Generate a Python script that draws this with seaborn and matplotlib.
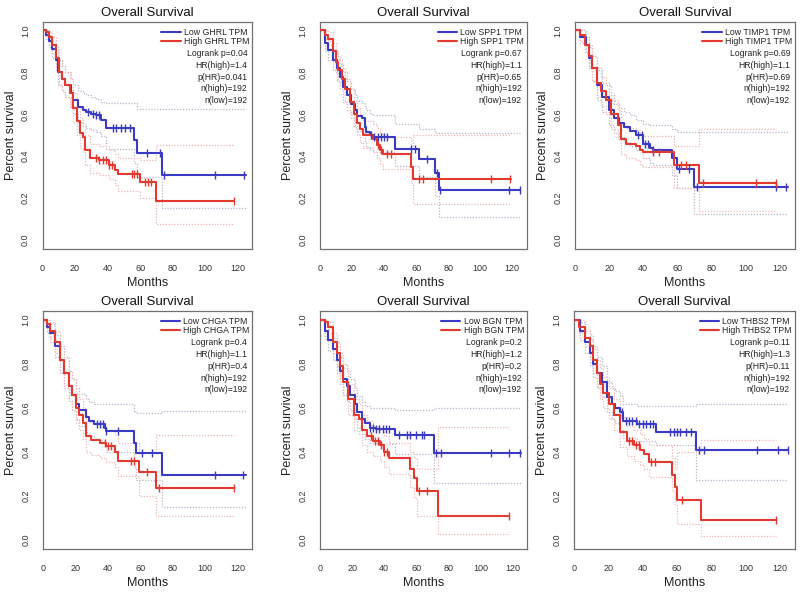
# -*- coding: utf-8 -*-
import numpy as np
import seaborn as sns
import matplotlib
matplotlib.use("Agg")
import matplotlib.pyplot as plt

##########              Dados                ##########
genes = ["GHRL", "SPP1", "TIMP1", "CHGA", "BGN", "THBS2"]
logrank_p = ["0.04", "0.67", "0.69", "0.4", "0.2", "0.11"]
hr_high = ["1.4", "1.1", "1.1", "1.1", "1.2", "1.3"]
p_hr = ["0.041", "0.65", "0.69", "0.4", "0.2", "0.11"]
n_high = [192, 192, 192, 192, 192, 192]
n_low = [192, 192, 192, 192, 192, 192]

# GHRL
ghrl_low_t = [0, 2, 4, 6, 8, 9.8, 12, 14, 17.3, 19, 22, 25, 27, 30, 33, 36, 39, 56.3, 57.8, 73.5, 125]
ghrl_low_s = [1.0, 0.98, 0.95, 0.91, 0.86, 0.80, 0.77, 0.74, 0.70, 0.67, 0.635, 0.62, 0.61, 0.60, 0.595, 0.575, 0.535, 0.475, 0.415, 0.31, 0.31]
ghrl_low_up = [1.0, 1.0, 0.98, 0.95, 0.91, 0.86, 0.83, 0.80, 0.77, 0.74, 0.71, 0.70, 0.69, 0.68, 0.675, 0.66, 0.655, 0.655, 0.625, 0.625, 0.625]
ghrl_low_lo = [1.0, 0.96, 0.92, 0.87, 0.81, 0.74, 0.71, 0.68, 0.63, 0.60, 0.565, 0.545, 0.535, 0.525, 0.515, 0.495, 0.435, 0.37, 0.30, 0.155, 0.155]
ghrl_low_c = [28, 31, 33, 35, 43.5, 45.5, 48, 51, 53.5, 64, 72.5, 74.7, 106, 124]
ghrl_high_t = [0, 2, 4, 6, 8, 10, 12, 14, 17, 19, 21, 23, 25, 26, 29, 35, 41, 44.5, 46.5, 60.2, 70, 118]
ghrl_high_s = [1.0, 0.99, 0.97, 0.93, 0.87, 0.80, 0.77, 0.74, 0.70, 0.63, 0.57, 0.51, 0.49, 0.43, 0.39, 0.38, 0.36, 0.335, 0.315, 0.275, 0.185, 0.185]
ghrl_high_up = [1.0, 1.0, 0.99, 0.97, 0.92, 0.86, 0.83, 0.80, 0.77, 0.70, 0.64, 0.58, 0.56, 0.50, 0.46, 0.45, 0.43, 0.41, 0.39, 0.38, 0.455, 0.455]
ghrl_high_lo = [1.0, 0.97, 0.94, 0.89, 0.82, 0.74, 0.71, 0.68, 0.63, 0.56, 0.50, 0.44, 0.42, 0.36, 0.32, 0.31, 0.29, 0.265, 0.235, 0.20, 0.075, 0.075]
ghrl_high_c = [33, 35, 37, 39, 41, 43, 55, 56.5, 58, 63, 65, 67, 117.5]

# SPP1
spp1_low_t = [0, 3, 5, 8.3, 10.4, 12.5, 14.6, 17, 19.4, 22, 23.3, 26, 28, 29, 31, 33, 46.5, 62, 72, 74, 125]
spp1_low_s = [1.0, 0.94, 0.907, 0.86, 0.82, 0.78, 0.73, 0.69, 0.65, 0.62, 0.59, 0.58, 0.54, 0.515, 0.50, 0.49, 0.435, 0.385, 0.32, 0.24, 0.24]
spp1_low_up = [1.0, 0.98, 0.95, 0.91, 0.88, 0.84, 0.80, 0.76, 0.72, 0.69, 0.665, 0.655, 0.64, 0.62, 0.60, 0.595, 0.555, 0.53, 0.51, 0.51, 0.51]
spp1_low_lo = [1.0, 0.90, 0.86, 0.81, 0.76, 0.72, 0.66, 0.62, 0.58, 0.55, 0.52, 0.51, 0.47, 0.445, 0.43, 0.42, 0.355, 0.30, 0.21, 0.11, 0.11]
spp1_low_c = [32, 34, 36, 38, 40, 42, 57, 59, 66.7, 73, 75, 117.7, 124.6]
spp1_high_t = [0, 3, 5, 8.3, 10, 11.5, 13.5, 15.6, 18.7, 21, 23, 25, 27, 33, 35.4, 37.5, 39.6, 56.7, 58.3, 119]
spp1_high_s = [1.0, 0.98, 0.96, 0.90, 0.85, 0.81, 0.77, 0.72, 0.66, 0.60, 0.56, 0.53, 0.50, 0.48, 0.455, 0.43, 0.41, 0.35, 0.29, 0.29]
spp1_high_up = [1.0, 1.0, 0.99, 0.94, 0.90, 0.86, 0.82, 0.77, 0.72, 0.67, 0.63, 0.60, 0.57, 0.555, 0.535, 0.51, 0.49, 0.44, 0.50, 0.50]
spp1_high_lo = [1.0, 0.96, 0.93, 0.85, 0.80, 0.76, 0.71, 0.66, 0.60, 0.54, 0.50, 0.47, 0.44, 0.42, 0.39, 0.365, 0.34, 0.27, 0.17, 0.17]
spp1_high_c = [36, 38, 42, 44, 62, 64, 106.7, 118.3]

# TIMP1
timp1_low_t = [0, 3, 6.3, 8, 10, 13, 16, 20, 23, 26, 29, 32, 36, 40, 44, 45.5, 57, 60, 70, 125]
timp1_low_s = [1.0, 0.97, 0.93, 0.87, 0.82, 0.74, 0.68, 0.62, 0.58, 0.56, 0.54, 0.52, 0.50, 0.46, 0.44, 0.43, 0.39, 0.34, 0.255, 0.255]
timp1_low_up = [1.0, 1.0, 0.97, 0.92, 0.88, 0.81, 0.75, 0.69, 0.65, 0.63, 0.61, 0.595, 0.575, 0.555, 0.55, 0.55, 0.53, 0.515, 0.515, 0.515]
timp1_low_lo = [1.0, 0.94, 0.89, 0.82, 0.76, 0.67, 0.61, 0.55, 0.51, 0.49, 0.47, 0.45, 0.43, 0.39, 0.37, 0.36, 0.31, 0.25, 0.125, 0.125]
timp1_low_c = [37, 39, 41, 43, 46, 61, 67, 71.5, 118, 124]
timp1_high_t = [0, 3, 6, 8, 10, 13, 15, 18, 21, 25.5, 27, 30, 36, 38, 40, 58, 73, 118]
timp1_high_s = [1.0, 0.98, 0.93, 0.88, 0.82, 0.75, 0.71, 0.67, 0.60, 0.55, 0.48, 0.46, 0.45, 0.43, 0.42, 0.36, 0.27, 0.27]
timp1_high_up = [1.0, 1.0, 0.97, 0.93, 0.88, 0.82, 0.78, 0.74, 0.67, 0.62, 0.555, 0.535, 0.525, 0.505, 0.495, 0.45, 0.53, 0.53]
timp1_high_lo = [1.0, 0.95, 0.89, 0.83, 0.76, 0.68, 0.64, 0.60, 0.53, 0.48, 0.41, 0.39, 0.38, 0.36, 0.35, 0.25, 0.14, 0.14]
timp1_high_c = [46, 49, 62, 65, 75, 106, 117.6]

# CHGA
chga_low_t = [0, 2, 4, 7, 10, 13, 16, 18, 20, 22, 26.5, 28.5, 31.6, 37.8, 39, 56, 57.5, 73, 125]
chga_low_s = [1.0, 0.97, 0.94, 0.88, 0.82, 0.76, 0.70, 0.66, 0.62, 0.59, 0.56, 0.54, 0.525, 0.51, 0.495, 0.44, 0.395, 0.295, 0.295]
chga_low_up = [1.0, 1.0, 0.98, 0.93, 0.88, 0.83, 0.77, 0.73, 0.69, 0.665, 0.64, 0.625, 0.62, 0.62, 0.62, 0.58, 0.575, 0.585, 0.585]
chga_low_lo = [1.0, 0.94, 0.90, 0.83, 0.76, 0.69, 0.63, 0.59, 0.55, 0.52, 0.49, 0.47, 0.455, 0.44, 0.40, 0.33, 0.27, 0.15, 0.15]
chga_low_c = [33, 35, 37, 39, 46, 61, 67, 106, 123.5]
chga_high_t = [0, 2, 4, 7, 10, 13, 16, 18, 20, 22, 24.5, 26.5, 29.6, 34.7, 39, 44, 46, 59, 69.4, 118]
chga_high_s = [1.0, 0.98, 0.95, 0.90, 0.82, 0.76, 0.70, 0.66, 0.60, 0.57, 0.53, 0.47, 0.455, 0.44, 0.425, 0.40, 0.36, 0.31, 0.235, 0.235]
chga_high_up = [1.0, 1.0, 0.99, 0.95, 0.88, 0.83, 0.77, 0.73, 0.67, 0.64, 0.60, 0.54, 0.53, 0.515, 0.50, 0.475, 0.44, 0.40, 0.475, 0.475]
chga_high_lo = [1.0, 0.96, 0.92, 0.85, 0.76, 0.69, 0.63, 0.59, 0.53, 0.50, 0.46, 0.40, 0.385, 0.37, 0.355, 0.33, 0.29, 0.20, 0.11, 0.11]
chga_high_c = [38, 40, 42, 54, 56, 64, 71.4, 117.7]

# BGN
bgn_low_t = [0, 3, 5, 8, 10.4, 12.5, 14.6, 16.7, 18.7, 22, 23.3, 26, 28, 31, 35, 47, 71, 125]
bgn_low_s = [1.0, 0.95, 0.91, 0.87, 0.82, 0.77, 0.73, 0.70, 0.66, 0.62, 0.58, 0.55, 0.53, 0.51, 0.505, 0.475, 0.395, 0.395]
bgn_low_up = [1.0, 0.99, 0.96, 0.92, 0.88, 0.83, 0.80, 0.77, 0.73, 0.69, 0.655, 0.625, 0.61, 0.60, 0.60, 0.59, 0.60, 0.60]
bgn_low_lo = [1.0, 0.91, 0.86, 0.82, 0.76, 0.71, 0.66, 0.63, 0.59, 0.55, 0.51, 0.48, 0.46, 0.44, 0.435, 0.39, 0.26, 0.26]
bgn_low_c = [31, 33, 35, 37, 39, 41, 43, 49, 54, 56, 60, 63.5, 65, 72, 75.4, 106.7, 118, 124.6]
bgn_high_t = [0, 3, 5, 8, 10.4, 12.5, 14.6, 17.7, 21, 24, 26, 29, 33, 37.5, 39.6, 43, 56, 58.3, 60.4, 73.5, 118]
bgn_high_s = [1.0, 0.99, 0.97, 0.90, 0.85, 0.79, 0.72, 0.64, 0.57, 0.55, 0.50, 0.47, 0.45, 0.43, 0.40, 0.37, 0.32, 0.28, 0.22, 0.11, 0.11]
bgn_high_up = [1.0, 1.0, 0.99, 0.94, 0.90, 0.85, 0.78, 0.71, 0.64, 0.62, 0.57, 0.54, 0.52, 0.50, 0.47, 0.44, 0.40, 0.37, 0.32, 0.515, 0.515]
bgn_high_lo = [1.0, 0.97, 0.94, 0.85, 0.79, 0.73, 0.66, 0.57, 0.50, 0.48, 0.43, 0.40, 0.38, 0.36, 0.33, 0.30, 0.24, 0.19, 0.11, 0.025, 0.025]
bgn_high_c = [32, 34, 36, 38, 40, 42, 61.5, 66.7, 117.7]

# THBS2
thbs2_low_t = [0, 3.3, 6.3, 9.2, 11, 13, 16, 19, 22, 24, 27, 28.4, 36.7, 47.5, 71, 125]
thbs2_low_s = [1.0, 0.95, 0.90, 0.85, 0.80, 0.76, 0.72, 0.65, 0.62, 0.60, 0.58, 0.54, 0.525, 0.49, 0.41, 0.41]
thbs2_low_up = [1.0, 0.99, 0.95, 0.91, 0.87, 0.83, 0.79, 0.72, 0.69, 0.675, 0.655, 0.62, 0.61, 0.61, 0.62, 0.62]
thbs2_low_lo = [1.0, 0.91, 0.85, 0.79, 0.74, 0.69, 0.65, 0.58, 0.55, 0.53, 0.50, 0.465, 0.45, 0.43, 0.27, 0.27]
thbs2_low_c = [28, 30, 32, 34, 36, 38, 40, 42, 44, 46, 56, 58, 60, 62, 65, 68, 73, 76, 107, 119, 125]
thbs2_high_t = [0, 3, 6.3, 9.2, 11, 13, 15, 17, 20, 23, 27, 31, 35, 38.6, 40.6, 43.5, 57, 58.8, 60, 74, 118]
thbs2_high_s = [1.0, 0.97, 0.92, 0.88, 0.82, 0.76, 0.71, 0.67, 0.62, 0.57, 0.49, 0.45, 0.43, 0.41, 0.39, 0.355, 0.295, 0.24, 0.18, 0.09, 0.09]
thbs2_high_up = [1.0, 1.0, 0.96, 0.93, 0.88, 0.82, 0.78, 0.74, 0.69, 0.64, 0.56, 0.52, 0.50, 0.48, 0.46, 0.43, 0.37, 0.32, 0.40, 0.455, 0.455]
thbs2_high_lo = [1.0, 0.94, 0.88, 0.83, 0.76, 0.70, 0.64, 0.60, 0.55, 0.50, 0.42, 0.38, 0.36, 0.34, 0.32, 0.285, 0.22, 0.16, 0.07, 0.015, 0.015]
thbs2_high_c = [32, 34, 36, 38, 45, 47, 63, 118]

x_ticks = [0, 20, 40, 60, 80, 100, 120]
y_ticks = [0.0, 0.2, 0.4, 0.6, 0.8, 1.0]

curvas = [
    ((ghrl_low_t, ghrl_low_s, ghrl_low_up, ghrl_low_lo, ghrl_low_c),
     (ghrl_high_t, ghrl_high_s, ghrl_high_up, ghrl_high_lo, ghrl_high_c)),
    ((spp1_low_t, spp1_low_s, spp1_low_up, spp1_low_lo, spp1_low_c),
     (spp1_high_t, spp1_high_s, spp1_high_up, spp1_high_lo, spp1_high_c)),
    ((timp1_low_t, timp1_low_s, timp1_low_up, timp1_low_lo, timp1_low_c),
     (timp1_high_t, timp1_high_s, timp1_high_up, timp1_high_lo, timp1_high_c)),
    ((chga_low_t, chga_low_s, chga_low_up, chga_low_lo, chga_low_c),
     (chga_high_t, chga_high_s, chga_high_up, chga_high_lo, chga_high_c)),
    ((bgn_low_t, bgn_low_s, bgn_low_up, bgn_low_lo, bgn_low_c),
     (bgn_high_t, bgn_high_s, bgn_high_up, bgn_high_lo, bgn_high_c)),
    ((thbs2_low_t, thbs2_low_s, thbs2_low_up, thbs2_low_lo, thbs2_low_c),
     (thbs2_high_t, thbs2_high_s, thbs2_high_up, thbs2_high_lo, thbs2_high_c)),
]

AZUL = "#3a3ac4"
VERMELHO = "#e3392e"
AZUL_IC = "#b6b6cc"
VERMELHO_IC = "#f1b4b4"
CINZA = "#707070"

sns.set_style("white")
plt.rcParams["font.family"] = ["Liberation Sans", "DejaVu Sans"]

W, H = 800, 597
fig = plt.figure(figsize=(W / 100, H / 100), dpi=100)

# caixas dos paineis em pixels: esquerda, topo, largura, altura
caixas = [(42.5, 22, 209.8, 226.5), (320, 22, 206.7, 226.5), (575, 22, 220, 226.5),
          (43.3, 311.3, 209, 237.2), (320, 311.3, 207, 237.2), (574.3, 311.3, 220.7, 237.2)]


def curva(ax, t, s, up, lo, cens, cor, cor_ic, rotulo):
    '''desenha uma curva de Kaplan-Meier com seu intervalo de confiança e as marcas de censura'''
    for banda in (up, lo):
        sns.lineplot(x=t, y=banda, ax=ax, color=cor_ic, lw=0.9, linestyle=(0, (1, 1.3)),
                     drawstyle="steps-post", estimator=None, sort=False, zorder=2)
    sns.lineplot(x=t, y=s, ax=ax, color=cor, lw=1.5, drawstyle="steps-post",
                 estimator=None, sort=False, label=rotulo, zorder=4)
    idx = np.searchsorted(t, cens, side="right") - 1  # valor da curva no tempo censurado
    sns.scatterplot(x=cens, y=np.asarray(s)[idx], ax=ax, marker="|", s=30,
                    color=cor, linewidth=1.0, zorder=5, legend=False)


for i, gene in enumerate(genes):
    l, t, w, h = caixas[i]
    ax = fig.add_axes([l / W, 1 - (t + h) / H, w / W, h / H])
    baixo, alto = curvas[i]
    curva(ax, *baixo, AZUL, AZUL_IC, f"Low {gene} TPM")
    curva(ax, *alto, VERMELHO, VERMELHO_IC, f"High {gene} TPM")

    ax.set_xlim(0, 129)
    ax.set_ylim(-0.04, 1.04)
    ax.set_xticks(x_ticks)
    ax.set_yticks(y_ticks)
    ax.set_yticklabels([f"{v:.1f}" for v in y_ticks], rotation=90, va="center")
    for sp in ax.spines.values():
        sp.set_color(CINZA)
        sp.set_linewidth(0.9)
    ax.tick_params(direction="out", length=4, width=0.8, color=CINZA,
                   labelcolor="#333333", labelsize=6.5)
    ax.tick_params(axis="x", pad=7)
    ax.tick_params(axis="y", pad=5)

    # rótulos centrados nas posições medidas na figura original
    ax.set_xlabel("Months", fontsize=9, color="#222222", va="center")
    ax.xaxis.set_label_coords(0.5, -34.5 / h)
    ax.set_ylabel("Percent survival", fontsize=9, color="#222222", va="center")
    ax.yaxis.set_label_coords(-32 / w, 0.5)
    ax.text(0.5, 1 + 9.5 / h, "Overall Survival", transform=ax.transAxes,
            ha="center", va="center", fontsize=9.5, color="#111111")

    ax.legend(loc="upper right", bbox_to_anchor=(1 - 3 / w, 1 - 6 / h), frameon=False,
              fontsize=6.3, handlelength=2.2, handletextpad=0.35, labelspacing=0.0,
              borderpad=0, borderaxespad=0)

    textos = [f"Logrank p={logrank_p[i]}", f"HR(high)={hr_high[i]}", f"p(HR)={p_hr[i]}",
              f"n(high)={n_high[i]}", f"n(low)={n_low[i]}"]
    for k, txt in enumerate(textos):
        ax.annotate(txt, xy=(1, 1), xycoords="axes fraction", xytext=(-5, -31.5 - 11.8 * k),
                    textcoords="offset pixels", ha="right", va="center", fontsize=6.2,
                    color="#222222")

fig.savefig("out.png", dpi=100)
